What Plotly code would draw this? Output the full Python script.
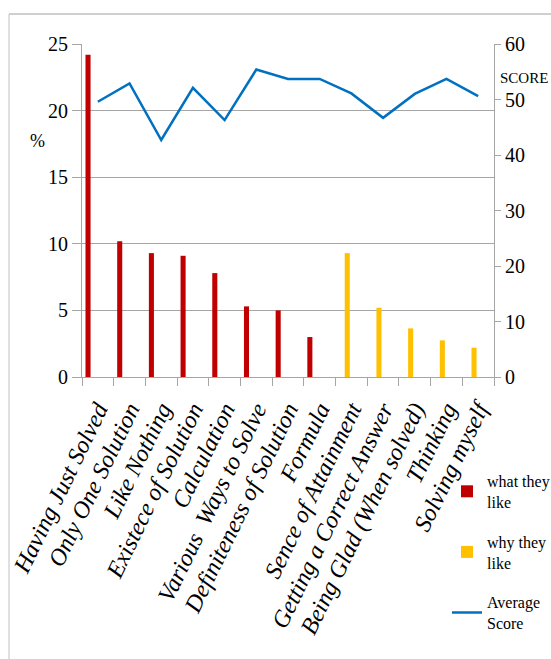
import plotly.graph_objects as go

categories = [
    "Having Just Solved", "Only One Solution", "Like Nothing", "Existece of Solution",
    "Calculation", "Various  Ways to Solve", "Definiteness of Solution", "Formula",
    "Sence of Attainment", "Getting a Correct Answer", "Being Glad (When solved)",
    "Thinking", "Solving myself",
]
what_they_like = [24.2, 10.2, 9.3, 9.1, 7.8, 5.3, 5.0, 3.0, None, None, None, None, None]
why_they_like = [None, None, None, None, None, None, None, None, 9.3, 5.2, 3.65, 2.75, 2.2]
average_score = [49.6, 52.9, 42.7, 52.1, 46.3, 55.4, 53.7, 53.7, 51.1, 46.7, 51.0, 53.7, 50.6]

W, H = 551, 659
L, R, T, B = 82, 57, 44, 282
GRID = "#a6a6a6"
SERIF = "Liberation Serif"

fig = go.Figure()
fig.add_trace(go.Bar(
    x=categories, y=what_they_like, name="what they<br>like", legendgroup="a",
    marker=dict(color="#C00000", line=dict(width=0)),
    width=0.16, offset=-0.39, yaxis="y",
))
fig.add_trace(go.Bar(
    x=categories, y=why_they_like, name="why they<br>like", legendgroup="b",
    marker=dict(color="#FFC000", line=dict(width=0)),
    width=0.16, offset=-0.21, yaxis="y",
))
fig.add_trace(go.Scatter(
    x=categories, y=average_score, name="Average<br>Score", legendgroup="c",
    mode="lines", line=dict(color="#0070C0", width=2.5), yaxis="y2",
))

pw = W - L - R
ph = H - T - B


def px_x(p):
    return (p - L) / pw


def px_y(p):
    return (H - B - p) / ph


fig.update_layout(
    width=W, height=H,
    margin=dict(l=L, r=R, t=T, b=B, pad=0, autoexpand=False),
    paper_bgcolor="white", plot_bgcolor="white",
    barmode="overlay",
    font=dict(family=SERIF, color="black", size=18),
    xaxis=dict(
        type="category", tickson="boundaries", ticks="outside", ticklen=8,
        tickcolor=GRID, showline=True, linecolor=GRID, linewidth=1,
        showgrid=False, tickangle=-64, automargin=False,
        ticklabelstandoff=8,
        tickfont=dict(family=SERIF, size=24, style="italic", color="black"),
    ),
    yaxis=dict(
        range=[0, 25], dtick=5, showgrid=True, gridcolor=GRID, gridwidth=1,
        ticks="outside", ticklen=9, tickcolor=GRID, showline=True,
        linecolor=GRID, zeroline=False, automargin=False,
        tickfont=dict(family=SERIF, size=20, color="black"),
    ),
    yaxis2=dict(
        range=[0, 60], dtick=10, overlaying="y", side="right",
        showgrid=False, ticks="outside", ticklen=6, tickcolor=GRID,
        showline=True, linecolor=GRID, zeroline=False, automargin=False,
        tickfont=dict(family=SERIF, size=20, color="black"),
    ),
    legend=dict(
        x=px_x(447), y=px_y(464), xanchor="left", yanchor="top",
        font=dict(family=SERIF, size=16, color="black"),
        bgcolor="rgba(0,0,0,0)", borderwidth=0,
        itemwidth=30, tracegroupgap=16,
    ),
    showlegend=True,
    annotations=[
        dict(text="%", x=px_x(37), y=px_y(141), xref="paper", yref="paper",
             xanchor="center", yanchor="middle", showarrow=False,
             font=dict(family=SERIF, size=18, color="black")),
        dict(text="SCORE", x=px_x(498), y=px_y(78), xref="paper", yref="paper",
             xanchor="left", yanchor="middle", showarrow=False,
             font=dict(family=SERIF, size=15, color="black")),
    ],
    shapes=[
        dict(type="line", xref="paper", yref="paper", x0=px_x(9), x1=px_x(W + 5),
             y0=px_y(14), y1=px_y(14), line=dict(color="#a0a0a0", width=1)),
        dict(type="line", xref="paper", yref="paper", x0=px_x(9), x1=px_x(9),
             y0=px_y(14), y1=px_y(H + 5), line=dict(color="#c0c0c0", width=1)),
    ],
)

fig.write_html("out.html")
